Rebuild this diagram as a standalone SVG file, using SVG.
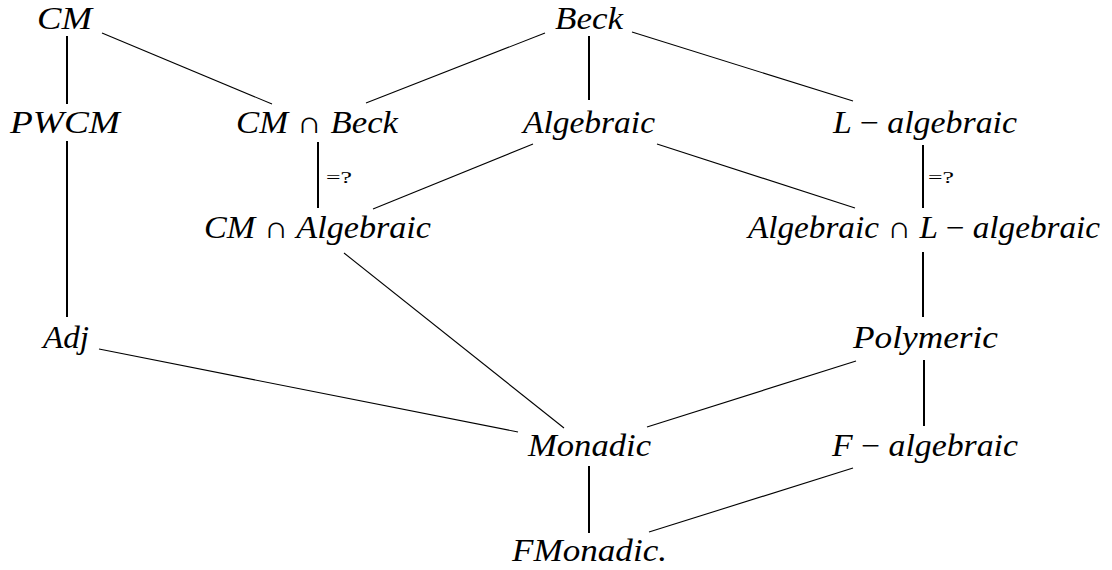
<svg xmlns="http://www.w3.org/2000/svg" width="1112" height="570" viewBox="0 0 1112 570">
<style>
.n{font-family:"Liberation Serif",Tinos,"Times New Roman",serif;font-style:italic;font-size:31px;fill:#000;text-anchor:middle}
.u{font-style:normal}
.lbl{font-family:"Liberation Serif",Tinos,"Times New Roman",serif;font-size:17px;fill:#000}
.e{stroke:#000;stroke-width:1.1;fill:none}
.v{stroke:#000;stroke-width:2;fill:none}
</style>
<rect width="1112" height="570" fill="#fff"/>
<g id="connectors">
<line class="v" x1="67" y1="36" x2="67" y2="104"/>
<line class="e" x1="102" y1="33" x2="272" y2="104"/>
<line class="e" x1="545" y1="33" x2="366" y2="103"/>
<line class="v" x1="589" y1="36" x2="589" y2="100"/>
<line class="e" x1="632" y1="32" x2="853" y2="101"/>
<line class="v" x1="67" y1="141" x2="67" y2="317"/>
<line class="v" x1="318" y1="142" x2="318" y2="208"/>
<line class="e" x1="533" y1="144" x2="373" y2="209"/>
<line class="e" x1="657" y1="144" x2="855" y2="208"/>
<line class="v" x1="923" y1="145" x2="923" y2="208"/>
<line class="e" x1="344" y1="253" x2="564" y2="428"/>
<line class="v" x1="923" y1="252" x2="923" y2="317"/>
<line class="e" x1="99" y1="349" x2="518" y2="432"/>
<line class="e" x1="856" y1="361" x2="647" y2="427"/>
<line class="v" x1="924" y1="360" x2="924" y2="426"/>
<line class="v" x1="589" y1="466" x2="589" y2="533"/>
<line class="e" x1="853" y1="468" x2="649" y2="532"/>
<text class="lbl" x="326" y="183" textLength="26" lengthAdjust="spacingAndGlyphs">=?</text>
<text class="lbl" x="928" y="183" textLength="26" lengthAdjust="spacingAndGlyphs">=?</text>
</g>
<g id="n-cm"><text class="n" x="64.5" y="29" textLength="55" lengthAdjust="spacingAndGlyphs">CM</text></g>
<g id="n-beck"><text class="n" x="589" y="29" textLength="68" lengthAdjust="spacingAndGlyphs">Beck</text></g>
<g id="n-pwcm"><text class="n" x="65" y="133" textLength="110" lengthAdjust="spacingAndGlyphs">PWCM</text></g>
<g id="n-cmbeck"><text class="n" x="317" y="133" textLength="162" lengthAdjust="spacingAndGlyphs">CM <tspan class="u">∩</tspan> Beck</text></g>
<g id="n-algebraic"><text class="n" x="589" y="133" textLength="132" lengthAdjust="spacingAndGlyphs">Algebraic</text></g>
<g id="n-lalg"><text class="n" x="925" y="133" textLength="184" lengthAdjust="spacingAndGlyphs">L <tspan class="u">−</tspan> algebraic</text></g>
<g id="n-cmalg"><text class="n" x="317.5" y="238" textLength="227" lengthAdjust="spacingAndGlyphs">CM <tspan class="u">∩</tspan> Algebraic</text></g>
<g id="n-alglalg"><text class="n" x="924" y="238" textLength="352" lengthAdjust="spacingAndGlyphs">Algebraic <tspan class="u">∩</tspan> L <tspan class="u">−</tspan> algebraic</text></g>
<g id="n-adj"><text class="n" x="66" y="348" textLength="46" lengthAdjust="spacingAndGlyphs">Adj</text></g>
<g id="n-polymeric"><text class="n" x="925.5" y="348" textLength="145" lengthAdjust="spacingAndGlyphs">Polymeric</text></g>
<g id="n-monadic"><text class="n" x="589.5" y="456" textLength="123" lengthAdjust="spacingAndGlyphs">Monadic</text></g>
<g id="n-falg"><text class="n" x="925" y="456" textLength="186" lengthAdjust="spacingAndGlyphs">F <tspan class="u">−</tspan> algebraic</text></g>
<g id="n-fmonadic"><text class="n" x="589.5" y="561" textLength="155" lengthAdjust="spacingAndGlyphs">FMonadic.</text></g>
</svg>
